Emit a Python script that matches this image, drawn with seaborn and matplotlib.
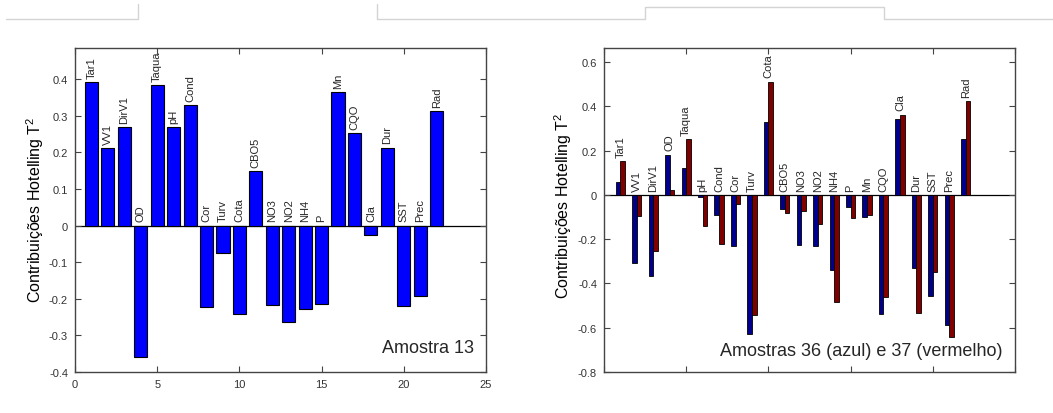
import numpy as np
import pandas as pd
import matplotlib
matplotlib.use("Agg")
import matplotlib.pyplot as plt
from matplotlib.lines import Line2D
from matplotlib.ticker import FuncFormatter, MultipleLocator
import seaborn as sns

# ---------------- data ----------------
variables = ["Tar1", "VV1", "DirV1", "OD", "Taqua", "pH", "Cond", "Cor", "Turv", "Cota",
             "CBO5", "NO3", "NO2", "NH4", "P", "Mn", "CQO", "Cla", "Dur", "SST", "Prec", "Rad"]
positions = list(range(1, len(variables) + 1))

amostra13 = [0.393, 0.212, 0.268, -0.360, 0.384, 0.270, 0.330, -0.223, -0.075, -0.241,
             0.149, -0.217, -0.264, -0.227, -0.215, 0.364, 0.252, -0.027, 0.213, -0.220,
             -0.192, 0.312]

amostra36 = [0.060, -0.310, -0.366, 0.182, 0.119, -0.012, -0.089, -0.231, -0.628, 0.329,
             -0.062, -0.225, -0.232, -0.341, -0.057, -0.101, -0.537, 0.344, -0.332, -0.457,
             -0.588, 0.252]
amostra37 = [0.154, -0.096, -0.252, 0.024, 0.252, -0.143, -0.222, -0.041, -0.543, 0.511,
             -0.080, -0.071, -0.131, -0.482, -0.104, -0.089, -0.461, 0.362, -0.532, -0.350,
             -0.644, 0.425]

ylabel_text = "Contribuições Hotelling T$^2$"
left_note = "Amostra 13"
right_note = "Amostras 36 (azul) e 37 (vermelho)"

# ---------------- style ----------------
sns.set_style("ticks")
plt.rcParams["font.family"] = ["Liberation Sans", "DejaVu Sans"]
plt.rcParams["axes.unicode_minus"] = False
plt.rcParams["mathtext.fontset"] = "custom"
plt.rcParams["mathtext.rm"] = "Liberation Sans"

W, H = 1053, 414
fig = plt.figure(figsize=(W / 100, H / 100), dpi=100)
fig.patch.set_facecolor("white")


def px_axes(x0, y0, x1, y1):
    return fig.add_axes([x0 / W, 1 - y1 / H, (x1 - x0) / W, (y1 - y0) / H])


ax1 = px_axes(75, 49, 486, 373)
ax2 = px_axes(604, 49, 1015, 373)


def fmt(v, p):
    if abs(v) < 1e-9:
        return "0"
    return "%g" % round(v, 3)


def style_axes(ax, show_xlabels=True):
    for s in ax.spines.values():
        s.set_visible(True)
        s.set_color("#444444")
        s.set_linewidth(1.0)
    ax.tick_params(direction="in", top=True, right=True, length=4, width=0.8,
                   labelsize=8, colors="#444444", labelcolor="#333333", pad=5)
    ax.xaxis.set_major_locator(MultipleLocator(5))
    ax.yaxis.set_major_formatter(FuncFormatter(fmt))
    ax.xaxis.set_major_formatter(FuncFormatter(fmt))
    if not show_xlabels:
        ax.tick_params(labelbottom=False)
    ax.set_xlabel("")
    ax.set_ylabel(ylabel_text, fontsize=11.5, color="black")
    ax.axhline(0, color="black", lw=0.9, zorder=0.5)
    ax.grid(False)


# ---------------- left chart ----------------
df1 = pd.DataFrame({"pos": positions, "val": amostra13})
sns.barplot(data=df1, x="pos", y="val", native_scale=True, color="#0000FF",
            saturation=1, edgecolor="black", linewidth=0.8, width=0.8,
            errorbar=None, ax=ax1)
ax1.set_xlim(0, 25)
ax1.set_ylim(-0.4, 0.485)
ax1.yaxis.set_major_locator(MultipleLocator(0.1))
style_axes(ax1, True)
ax1.yaxis.set_label_coords(-0.07, 0.505)
for x, v, name in zip(positions, amostra13, variables):
    ax1.annotate(name, (x, max(v, 0)), xytext=(0, 3), textcoords="offset points",
                 rotation=90, ha="center", va="bottom", fontsize=8)
ax1.text(0.97, 0.05, left_note, transform=ax1.transAxes, ha="right", va="bottom",
         fontsize=13)

# ---------------- right chart ----------------
df2 = pd.DataFrame({
    "pos": positions * 2,
    "val": amostra36 + amostra37,
    "amostra": ["36"] * len(positions) + ["37"] * len(positions),
})
sns.barplot(data=df2, x="pos", y="val", hue="amostra", native_scale=True,
            palette=["#00008C", "#800000"], saturation=1, edgecolor="black",
            linewidth=0.6, width=0.56, errorbar=None, legend=False, ax=ax2)
ax2.set_xlim(0, 25)
ax2.set_ylim(-0.8, 0.663)
ax2.yaxis.set_major_locator(MultipleLocator(0.2))
style_axes(ax2, False)
ax2.yaxis.set_label_coords(-0.072, 0.515)
for x, a, b, name in zip(positions, amostra36, amostra37, variables):
    ax2.annotate(name, (x, max(a, b, 0)), xytext=(0, 3), textcoords="offset points",
                 rotation=90, ha="center", va="bottom", fontsize=8)
ax2.text(0.97, 0.04, right_note, transform=ax2.transAxes, ha="right", va="bottom",
         fontsize=13)

# ---------------- page decoration (tab outlines at top) ----------------
def fig_line(xs, ys):
    fig.add_artist(Line2D([x / W for x in xs], [1 - y / H for y in ys],
                          transform=fig.transFigure, color="#d4d4d4", lw=1))

fig_line([6, 138, 138], [19.5, 19.5, 5])
fig_line([377, 377, 645, 645, 884, 884, 1053], [5, 19.5, 19.5, 7.5, 7.5, 19.5, 19.5])

fig.savefig("out.png", dpi=100, facecolor="white")
